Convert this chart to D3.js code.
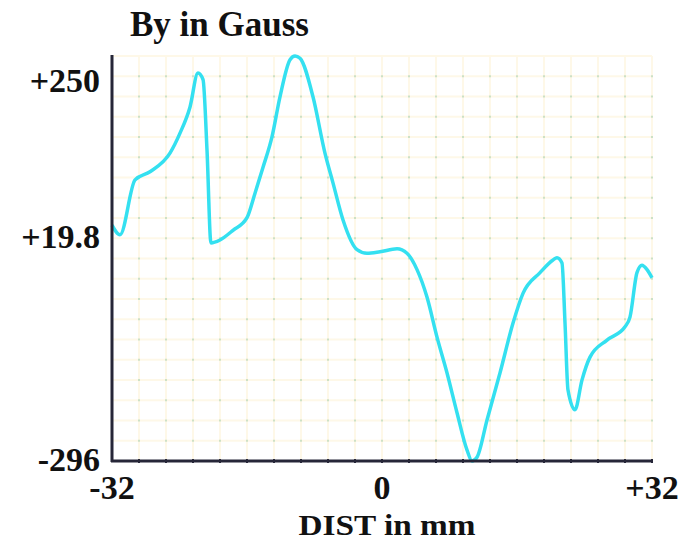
<!DOCTYPE html>
<html lang="en">
<head>
    <meta charset="UTF-8">
    <title>By in Gauss</title>
    <script src="https://d3js.org/d3.v7.min.js"></script>
    <style>
        body {
            margin: 0;
            background: #fff;
            font-family: "Liberation Serif", "Times New Roman", serif;
        }

        .grid line {
            stroke: #fef8e8;
            stroke-width: 2;
        }

        .knot {
            fill: #bcd9bc;
        }

        .label {
            font-size: 34px;
            font-weight: bold;
            fill: #111;
        }
    </style>
</head>
<body>
    <div id="chart"></div>
    <script>
        // Data: distance in mm, By in Gauss
        const dist = [-32, -31.05, -29.27, -27.5, -25.13, -23.94, -22.76, -21.81, -21.21, -20.74,
            -20.27, -19.2, -17.66, -16, -15.05, -14.1, -13.04, -12.09, -10.9, -10.31,
            -9.72, -8.18, -6.76, -5.81, -4.62, -2.96, -1.78, -0.24, 1.78, 2.96,
            4.15, 5.33, 6.52, 7.7, 8.89, 10.07, 10.67, 11.26, 12.44, 13.99,
            15.53, 16.71, 18.73, 20.27, 20.74, 21.33, 21.69, 22.04, 22.87, 23.7,
            24.65, 26.67, 28.8, 29.39, 30.22, 30.81, 31.41, 32];
        const gauss = [22, 9, 83, 94, 119, 146, 181, 227, 218, 123,
            -2, 2, 15, 32, 65, 100, 141, 195, 245, 250,
            247, 195, 119, 79, 29, -11, -16, -14, -10, -16,
            -38, -75, -129, -177, -231, -281, -296, -291, -241, -177,
            -110, -70, -42, -25, -22, -29, -110, -200, -227, -187,
            -156, -133, -115, -102, -42, -32, -38, -49];

        const xTicks = [-32, 0, 32];
        const xTickText = ["-32", "0", "+32"];
        const yTicks = [250, 19.8, -296];
        const yTickText = ["+250", "+19.8", "-296"];
        const gridDivisions = 20;

        const W = 679, H = 549;
        const plot = { left: 112, right: 652, top: 56, bottom: 461 };

        const svg = d3.select("#chart")
            .append("svg")
            .attr("width", W)
            .attr("height", H);

        const x = d3.scaleLinear().domain([-32, 32]).range([plot.left, plot.right]);
        const y = d3.scaleLinear().domain([-296, 250]).range([plot.bottom, plot.top]);

        const xGrid = d3.range(gridDivisions + 1).map(i => -32 + i * 64 / gridDivisions);
        const yGrid = d3.range(gridDivisions + 1).map(i => -296 + i * 546 / gridDivisions);

        // Gridlines
        const grid = svg.append("g").attr("class", "grid");
        grid.selectAll(".gx")
            .data(xGrid)
            .enter()
            .append("line")
            .attr("x1", d => x(d)).attr("x2", d => x(d))
            .attr("y1", plot.top).attr("y2", plot.bottom);
        grid.selectAll(".gy")
            .data(yGrid)
            .enter()
            .append("line")
            .attr("x1", plot.left).attr("x2", plot.right)
            .attr("y1", d => y(d)).attr("y2", d => y(d));

        // little dots where the grid lines cross
        const knots = [];
        xGrid.slice(1).forEach(gx => yGrid.slice(1, -1).forEach(gy => knots.push([gx, gy])));
        svg.append("g")
            .selectAll("rect")
            .data(knots)
            .enter()
            .append("rect")
            .attr("class", "knot")
            .attr("x", d => x(d[0]) - 0.75)
            .attr("y", d => y(d[1]) - 1)
            .attr("width", 1.5)
            .attr("height", 2);

        // Curve
        const points = dist.map((d, i) => ({ d: d, v: gauss[i] }));
        const line = d3.line()
            .x(p => x(p.d))
            .y(p => y(p.v))
            .curve(d3.curveMonotoneX);

        svg.append("path")
            .datum(points)
            .attr("fill", "none")
            .attr("stroke", "#34e0f0")
            .attr("stroke-width", 3.5)
            .attr("stroke-linejoin", "round")
            .attr("d", line);

        // Axes
        svg.append("line")
            .attr("x1", plot.left).attr("x2", plot.left)
            .attr("y1", plot.top - 1).attr("y2", plot.bottom + 1)
            .attr("stroke", "#262638").attr("stroke-width", 3);
        svg.append("line")
            .attr("x1", plot.left - 1).attr("x2", plot.right)
            .attr("y1", plot.bottom).attr("y2", plot.bottom)
            .attr("stroke", "#262638").attr("stroke-width", 3);

        // tick marks on bottom axis
        svg.append("g")
            .selectAll("rect")
            .data(xGrid.slice(1))
            .enter()
            .append("rect")
            .attr("x", d => x(d) - 1)
            .attr("y", plot.bottom - 2)
            .attr("width", 2)
            .attr("height", 4)
            .attr("fill", "#262638");

        // Tick labels
        svg.selectAll(".xlab")
            .data(xTicks)
            .enter()
            .append("text")
            .attr("class", "label")
            .attr("text-anchor", "middle")
            .attr("x", d => x(d))
            .attr("y", plot.bottom + 38)
            .text((d, i) => xTickText[i]);

        // y labels drift inside the plot band: pushed down at the top, barely at the bottom
        svg.selectAll(".ylab")
            .data(yTicks)
            .enter()
            .append("text")
            .attr("class", "label")
            .attr("text-anchor", "end")
            .attr("x", plot.left - 12)
            .attr("y", d => {
                const t = (y(d) - plot.top) / (plot.bottom - plot.top);
                return y(d) + 36 - 42.5 * t + 16.5 * t * t;
            })
            .text((d, i) => yTickText[i]);

        // Titles
        svg.append("text")
            .attr("class", "label")
            .style("font-size", "35px")
            .attr("x", 130)
            .attr("y", 36)
            .text("By in Gauss");

        svg.append("text")
            .attr("class", "label")
            .style("font-size", "30px")
            .attr("text-anchor", "middle")
            .attr("textLength", 177)
            .attr("lengthAdjust", "spacingAndGlyphs")
            .attr("x", x(0) + 5)
            .attr("y", 535)
            .text("DIST in mm");
    </script>
</body>
</html>
